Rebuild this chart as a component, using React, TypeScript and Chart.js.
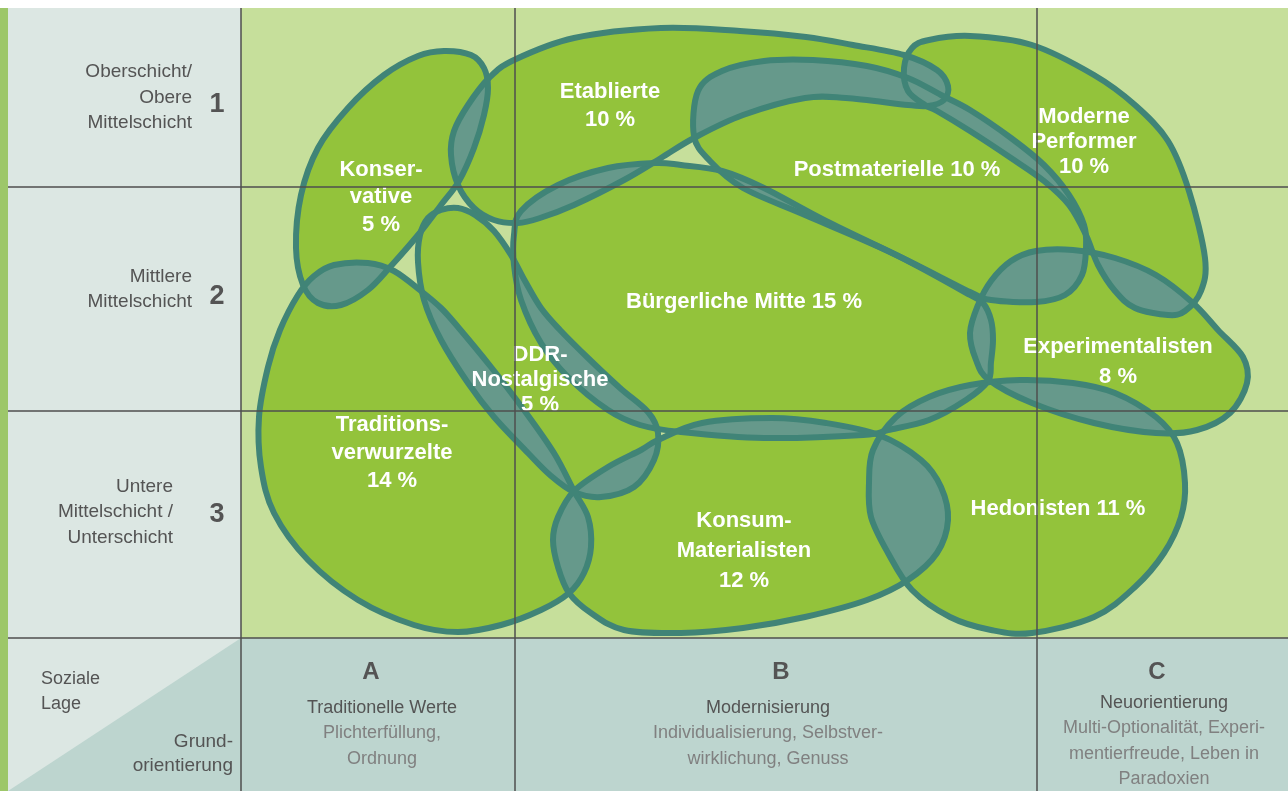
import React, { useEffect, useRef } from 'react';
import { Chart, registerables } from 'chart.js';

Chart.register(...registerables);

type Pt = [number, number];

// Plot space: Grundorientierung (x, 0..1047) and soziale Lage (y, 0..630 from top)
const xMax = 1047;
const yMax = 630;
const columnBounds = [274, 796];
const rowBounds = [179, 403];

// Milieu outlines (in plot units)
const konservative: Pt[] = [
  [203, 43], [230, 47], [243, 60], [247, 80], [243, 107], [233, 140], [218, 173], [200, 197],
  [177, 227], [150, 258], [127, 282], [100, 297], [77, 295], [62, 277], [55, 240], [60, 187],
  [77, 140], [107, 100], [143, 67], [177, 48],
];
const etablierte: Pt[] = [
  [210, 147], [213, 123], [227, 97], [248, 70], [273, 52], [333, 30], [420, 20], [499, 23],
  [565, 29], [612, 37], [663, 47], [696, 62], [707, 78], [703, 92], [687, 98], [667, 97],
  [605, 90], [564, 90], [502, 107], [453, 130], [420, 150], [383, 172], [333, 197], [299, 210],
  [277, 215], [253, 212], [233, 200], [217, 177],
];
const postmaterielle: Pt[] = [
  [453, 128], [457, 83], [481, 63], [523, 53], [572, 52], [626, 58], [667, 70], [700, 87],
  [729, 102], [770, 130], [803, 157], [828, 187], [843, 217], [845, 240], [841, 267], [824, 287],
  [795, 294], [750, 292], [729, 284], [647, 243], [564, 207], [502, 180], [469, 153],
];
const modernePerformer: Pt[] = [
  [663, 60], [671, 40], [688, 32], [729, 28], [791, 37], [853, 67], [894, 97], [927, 133],
  [948, 183], [964, 250], [960, 283], [944, 303], [927, 307], [894, 300], [874, 283], [857, 257],
  [845, 227], [828, 197], [803, 173], [770, 150], [729, 123], [696, 103], [684, 97], [667, 83],
];
const buergerlicheMitte: Pt[] = [
  [273, 227], [280, 203], [317, 177], [367, 160], [414, 155], [440, 157], [481, 163], [523, 180],
  [585, 213], [667, 253], [729, 287], [742, 295], [750, 312], [752, 332], [750, 354], [747, 373],
  [725, 392], [688, 412], [647, 422], [622, 427], [523, 430], [440, 424], [399, 417], [367, 402],
  [327, 369], [300, 335], [280, 292], [273, 257],
];
const ddrNostalgische: Pt[] = [
  [200, 202], [217, 200], [234, 207], [253, 223], [270, 247], [284, 273], [300, 300], [319, 322],
  [347, 350], [379, 380], [407, 404], [417, 425], [413, 452], [393, 479], [360, 489], [333, 484],
  [309, 467], [287, 445], [253, 409], [227, 375], [200, 332], [183, 292], [177, 254], [179, 227],
  [187, 210],
];
const traditionsverwurzelte: Pt[] = [
  [93, 257], [127, 255], [153, 263], [180, 283], [200, 300], [217, 319], [250, 359], [283, 402],
  [313, 445], [333, 483], [347, 509], [350, 539], [343, 565], [328, 585], [300, 602], [260, 617],
  [217, 624], [173, 617], [117, 592], [67, 552], [33, 505], [20, 459], [18, 409], [27, 359],
  [39, 322], [57, 287], [73, 268],
];
const konsumMaterialisten: Pt[] = [
  [333, 483], [367, 459], [400, 442], [417, 432], [461, 415], [531, 410], [585, 415], [638, 427],
  [680, 452], [700, 479], [707, 512], [696, 545], [667, 572], [626, 592], [564, 609], [502, 620],
  [440, 625], [383, 622], [350, 605], [328, 585], [317, 559], [312, 532], [317, 509],
];
const hedonisten: Pt[] = [
  [632, 442], [655, 409], [688, 389], [729, 377], [779, 372], [832, 375], [874, 385], [915, 409],
  [936, 435], [944, 475], [940, 509], [923, 545], [894, 579], [853, 609], [791, 625], [750, 622],
  [709, 609], [671, 582], [647, 545], [630, 509], [628, 475],
];
const experimentalisten: Pt[] = [
  [737, 297], [750, 273], [770, 253], [795, 243], [832, 242], [874, 250], [915, 267], [952, 295],
  [977, 322], [1002, 349], [1006, 375], [989, 405], [956, 422], [915, 425], [853, 415], [791, 395],
  [748, 372], [735, 352], [729, 325],
];

const milieuNames = [
  'Konservative', 'Etablierte', 'Postmaterielle', 'Moderne Performer', 'Bürgerliche Mitte',
  'DDR-Nostalgische', 'Traditionsverwurzelte', 'Konsum-Materialisten', 'Hedonisten', 'Experimentalisten',
];
const milieuShapes: Pt[][] = [
  konservative, etablierte, postmaterielle, modernePerformer, buergerlicheMitte,
  ddrNostalgische, traditionsverwurzelte, konsumMaterialisten, hedonisten, experimentalisten,
];
const milieuLabels: string[][] = [
  ['Konser-', 'vative', '5 %'],
  ['Etablierte', '10 %'],
  ['Postmaterielle 10 %'],
  ['Moderne', 'Performer', '10 %'],
  ['Bürgerliche Mitte 15 %'],
  ['DDR-', 'Nostalgische', '5 %'],
  ['Traditions-', 'verwurzelte', '14 %'],
  ['Konsum-', 'Materialisten', '12 %'],
  ['Hedonisten 11 %'],
  ['Experimentalisten', '8 %'],
];
const labelCenters: Pt[] = [
  [140, 189], [369, 98], [656, 162], [843, 134], [503, 294],
  [299, 372], [151, 445], [503, 543], [817, 501], [877, 354],
];
const labelGaps = [27.5, 28, 28, 25, 28, 25, 28, 30, 28, 30];

// Axis captions
const rowLabels: string[][] = [
  ['Oberschicht/', 'Obere', 'Mittelschicht'],
  ['Mittlere', 'Mittelschicht'],
  ['Untere', 'Mittelschicht /', 'Unterschicht'],
];
const rowNumbers = ['1', '2', '3'];
const columnLetters = ['A', 'B', 'C'];
const columnTitles = ['Traditionelle Werte', 'Modernisierung', 'Neuorientierung'];
const columnDescriptions: string[][] = [
  ['Plichterfüllung,', 'Ordnung'],
  ['Individualisierung, Selbstver-', 'wirklichung, Genuss'],
  ['Multi-Optionalität, Experi-', 'mentierfreude, Leben in', 'Paradoxien'],
];
const cornerTop = ['Soziale', 'Lage'];
const cornerBottom = ['Grund-', 'orientierung'];

// Layout (positions of captions)
const rowLabelCenters = [89.5, 281.5, 504];
const rowLabelRight = [49, 49, 68];
const rowNumberCenters = [97, 289, 507];
const letterX = [130, 540, 916];
const titleX = [141, 527, 923];
const titleY = [70, 70, 65];

const C = {
  page: '#ffffff',
  strip: '#9dc769',
  side: '#dce7e3',
  plot: '#c6df9b',
  foot: '#bdd5cf',
  grid: '#4f4f4f',
  fill: '#93c33b',
  overlap: '#66998b',
  border: '#408477',
  label: '#ffffff',
  caption: '#545454',
  desc: '#808080',
};

let narrowChecked = false;
let narrowAvailable = false;
function hasNarrow(): boolean {
  if (narrowChecked) return narrowAvailable;
  narrowChecked = true;
  const c = document.createElement('canvas').getContext('2d');
  if (!c) return false;
  const s = 'mmmmmmmmmmlli WWW 0123 Bürgerliche';
  c.font = '40px monospace';
  const a = c.measureText(s).width;
  c.font = '40px "Liberation Sans Narrow", monospace';
  const b = c.measureText(s).width;
  narrowAvailable = Math.abs(a - b) > 0.5;
  return narrowAvailable;
}

function setFont(ctx: CanvasRenderingContext2D, weight: string, size: number) {
  const anyCtx = ctx as any;
  if (hasNarrow()) {
    ctx.font = `${weight} ${(size * 1.05).toFixed(1)}px "Liberation Sans Narrow", "Liberation Sans", Arial, sans-serif`;
    anyCtx.letterSpacing = `${(size * 0.068).toFixed(2)}px`;
  } else {
    ctx.font = `${weight} ${size}px "Liberation Sans", Arial, sans-serif`;
    anyCtx.letterSpacing = '0px';
  }
}

function tracePath(ctx: CanvasRenderingContext2D, pts: { x: number; y: number }[]) {
  const n = pts.length;
  ctx.beginPath();
  ctx.moveTo(pts[0].x, pts[0].y);
  for (let i = 0; i < n; i++) {
    const p0 = pts[(i - 1 + n) % n];
    const p1 = pts[i];
    const p2 = pts[(i + 1) % n];
    const p3 = pts[(i + 2) % n];
    ctx.bezierCurveTo(
      p1.x + (p2.x - p0.x) / 6, p1.y + (p2.y - p0.y) / 6,
      p2.x - (p3.x - p1.x) / 6, p2.y - (p3.y - p1.y) / 6,
      p2.x, p2.y,
    );
  }
  ctx.closePath();
}

const milieuPlugin = {
  id: 'milieus',
  beforeDraw(chart: any) {
    const ctx: CanvasRenderingContext2D = chart.ctx;
    const xs = chart.scales.x;
    const ys = chart.scales.y;
    const W = chart.width;
    const H = chart.height;
    const L = xs.getPixelForValue(0);
    const R = xs.getPixelForValue(xMax);
    const T = ys.getPixelForValue(0);
    const B = ys.getPixelForValue(yMax);
    ctx.save();
    ctx.fillStyle = C.page;
    ctx.fillRect(0, 0, W, H);
    ctx.fillStyle = C.strip;
    ctx.fillRect(0, T, 8, H - T);
    ctx.fillStyle = C.side;
    ctx.fillRect(8, T, L - 8, H - T);
    ctx.fillStyle = C.plot;
    ctx.fillRect(L, T, R - L, B - T);
    ctx.fillStyle = C.foot;
    ctx.fillRect(L, B, W - L, H - B);
    ctx.beginPath();
    ctx.moveTo(8, H);
    ctx.lineTo(L, B);
    ctx.lineTo(L, H);
    ctx.closePath();
    ctx.fill();
    ctx.restore();
  },
  afterDatasetsDraw(chart: any) {
    const ctx: CanvasRenderingContext2D = chart.ctx;
    const xs = chart.scales.x;
    const ys = chart.scales.y;
    const W = chart.width;
    const H = chart.height;
    const L = xs.getPixelForValue(0);
    const B = ys.getPixelForValue(yMax);
    const T = ys.getPixelForValue(0);
    const shapes = milieuShapes.map((_, i) =>
      chart.getDatasetMeta(i).data.map((el: any) => ({ x: el.x, y: el.y })),
    );
    ctx.save();
    // fills
    ctx.fillStyle = C.fill;
    shapes.forEach((s) => { tracePath(ctx, s); ctx.fill(); });
    // overlaps
    ctx.fillStyle = C.overlap;
    for (let i = 0; i < shapes.length; i++) {
      for (let j = i + 1; j < shapes.length; j++) {
        ctx.save();
        tracePath(ctx, shapes[i]);
        ctx.clip();
        tracePath(ctx, shapes[j]);
        ctx.fill();
        ctx.restore();
      }
    }
    // outlines
    ctx.strokeStyle = C.border;
    ctx.lineWidth = 6;
    ctx.lineJoin = 'round';
    shapes.forEach((s) => { tracePath(ctx, s); ctx.stroke(); });

    // milieu labels
    ctx.fillStyle = C.label;
    setFont(ctx, 'bold', 22);
    ctx.textAlign = 'center';
    ctx.textBaseline = 'middle';
    milieuLabels.forEach((lines, i) => {
      const cx = xs.getPixelForValue(labelCenters[i][0]);
      const cy = ys.getPixelForValue(labelCenters[i][1]);
      lines.forEach((t, k) => {
        ctx.fillText(t, cx, cy + (k - (lines.length - 1) / 2) * labelGaps[i]);
      });
    });

    // row captions
    ctx.fillStyle = C.caption;
    rowLabels.forEach((lines, r) => {
      setFont(ctx, 'normal', 19);
      ctx.textAlign = 'right';
      const cy = ys.getPixelForValue(rowLabelCenters[r]);
      lines.forEach((t, k) => {
        ctx.fillText(t, L - rowLabelRight[r], cy + (k - (lines.length - 1) / 2) * 25.5);
      });
      setFont(ctx, 'bold', 27);
      ctx.textAlign = 'center';
      ctx.fillText(rowNumbers[r], L - 24, ys.getPixelForValue(rowNumberCenters[r]));
    });

    // corner captions
    setFont(ctx, 'normal', 18);
    ctx.textAlign = 'left';
    cornerTop.forEach((t, k) => ctx.fillText(t, 41, B + 41.5 + k * 24.5));
    setFont(ctx, 'normal', 19);
    ctx.textAlign = 'right';
    cornerBottom.forEach((t, k) => ctx.fillText(t, L - 8, B + 103.5 + k * 24.5));

    // column captions
    ctx.textAlign = 'center';
    columnLetters.forEach((t, c) => {
      ctx.fillStyle = C.caption;
      setFont(ctx, 'bold', 24);
      ctx.fillText(t, xs.getPixelForValue(letterX[c]), B + 34);
      setFont(ctx, 'normal', 18);
      const tx = xs.getPixelForValue(titleX[c]);
      ctx.fillText(columnTitles[c], tx, B + titleY[c]);
      ctx.fillStyle = C.desc;
      columnDescriptions[c].forEach((d, k) => ctx.fillText(d, tx, B + titleY[c] + (k + 1) * 25.5));
    });

    // grid lines on top
    ctx.strokeStyle = C.grid;
    ctx.lineWidth = 1.5;
    ctx.beginPath();
    ctx.moveTo(L, T);
    ctx.lineTo(L, H);
    columnBounds.forEach((v) => {
      const x = xs.getPixelForValue(v);
      ctx.moveTo(x, T);
      ctx.lineTo(x, H);
    });
    rowBounds.forEach((v) => {
      const y = ys.getPixelForValue(v);
      ctx.moveTo(8, y);
      ctx.lineTo(W, y);
    });
    ctx.moveTo(8, B);
    ctx.lineTo(W, B);
    ctx.stroke();
    ctx.restore();
  },
};

export default function App() {
  const ref = useRef<HTMLCanvasElement | null>(null);
  useEffect(() => {
    document.body.style.margin = '0';
    const canvas = ref.current;
    if (!canvas) return;
    const chart = new Chart(canvas, {
      type: 'scatter',
      data: {
        datasets: milieuShapes.map((shape, i) => ({
          label: milieuNames[i],
          data: shape.map(([x, y]) => ({ x, y })),
          pointRadius: 0,
          pointHoverRadius: 0,
          showLine: false,
        })),
      },
      options: {
        animation: false,
        responsive: false,
        devicePixelRatio: 1,
        events: [],
        layout: { padding: { left: 241, top: 8, right: 0, bottom: 153 } },
        plugins: { legend: { display: false }, tooltip: { enabled: false } },
        scales: {
          x: { type: 'linear', min: 0, max: xMax, display: false },
          y: { type: 'linear', min: 0, max: yMax, reverse: true, display: false },
        },
      },
      plugins: [milieuPlugin],
    });
    return () => chart.destroy();
  }, []);
  return (
    <div style={{ width: 1288, height: 791 }}>
      <canvas ref={ref} width={1288} height={791} />
    </div>
  );
}
